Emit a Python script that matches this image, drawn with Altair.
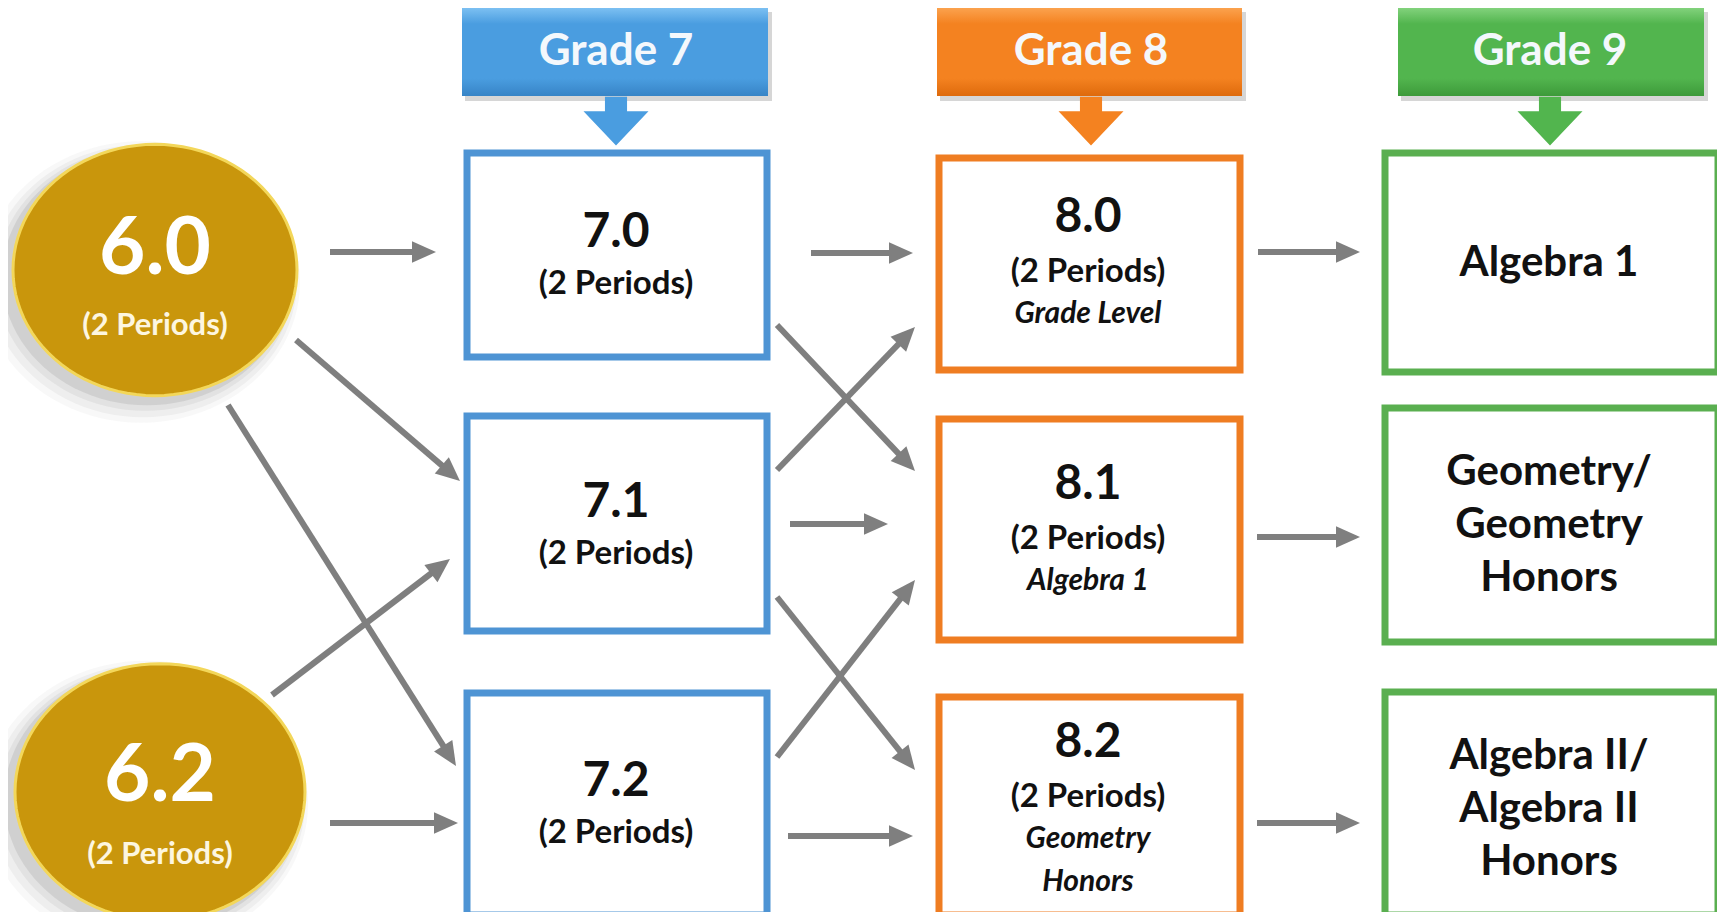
import math
import altair as alt
import pandas as pd

# ---------------- content ----------------
grade_titles = ["Grade 7", "Grade 8", "Grade 9"]
start_courses = ["6.0", "6.2"]
grade7_courses = ["7.0", "7.1", "7.2"]
grade8_courses = ["8.0", "8.1", "8.2"]
grade8_tracks = [["Grade Level"], ["Algebra 1"], ["Geometry", "Honors"]]
grade9_courses = [["Algebra 1"], ["Geometry/", "Geometry", "Honors"], ["Algebra II/", "Algebra II", "Honors"]]
periods_label = "(2 Periods)"
path_from = ["6.0", "6.0", "6.0", "6.2", "6.2", "7.0", "7.0", "7.1", "7.1", "7.1", "7.2", "7.2", "8.0", "8.1", "8.2"]
path_to = ["7.0", "7.1", "7.2", "7.1", "7.2", "8.0", "8.1", "8.0", "8.1", "8.2", "8.1", "8.2", "9-1", "9-2", "9-3"]

# ---------------- layout (pixel positions on the 1725x920 page) ----------------
PAGE_W, PAGE_H, M = 1725, 920, 8
header_x1 = [462, 937, 1398]
header_x2 = [768, 1242, 1704]
header_y1, header_y2 = 8, 96
header_cx = [616, 1091, 1550]
grade_light = ["#7cc0f2", "#fba24e", "#82d27c"]
grade_mid = ["#4a9de0", "#f48220", "#52b54e"]
grade_dark = ["#3784c6", "#de6a0c", "#3d9a3a"]
border_colors = ["#4e94d4", "#ef7d22", "#5aaf50"]

col_x1 = [467, 939, 1385]
col_x2 = [767, 1240, 1718]
row_y1 = [[153, 416, 693], [158, 419, 697], [153, 408, 692]]
row_y2 = [[357, 631, 915], [370, 640, 915], [372, 642, 915]]

circle_cx = [155, 160]
circle_cy = [270, 792]
circle_rx = [142, 145]

arrow_x1 = [330, 296, 228, 272, 330, 811, 777, 777, 790, 777, 777, 788, 1258, 1257, 1257]
arrow_y1 = [252, 340, 405, 695, 823, 253, 325, 470, 524, 597, 757, 836, 252, 537, 823]
arrow_x2 = [436, 460, 456, 450, 458, 913, 915, 915, 888, 915, 915, 913, 1360, 1360, 1360]
arrow_y2 = [252, 481, 766, 559, 823, 253, 471, 327, 524, 770, 580, 836, 252, 537, 823]

FONT = "Lato"

# ---------------- tables ----------------
hdr = pd.DataFrame({"title": grade_titles, "x1": header_x1, "x2": header_x2,
                    "y1": header_y1, "y2": header_y2, "cx": header_cx,
                    "cy": [(header_y1 + header_y2) / 2] * 3,
                    "ay": [header_y2 + 25] * 3, "col": grade_mid})

box_rows = []
for c in range(3):
    for r in range(3):
        box_rows.append({"x1": col_x1[c], "x2": col_x2[c], "y1": row_y1[c][r],
                         "y2": row_y2[c][r], "stroke": border_colors[c]})
boxes = pd.DataFrame(box_rows)

circ = pd.DataFrame({"label": start_courses, "cx": circle_cx, "cy": circle_cy,
                     "sz": [(2 * r) ** 2 for r in circle_rx]})

texts = []  # text, x, y, size, color, italic
circle_main_y = [250, 777]
circle_sub_y = [326, 855]
for lab, cx, y1, y2 in zip(start_courses, circle_cx, circle_main_y, circle_sub_y):
    texts.append((lab, cx, y1, 80, "#ffffff", False))
    texts.append((periods_label, cx, y2, 31, "#fdf6e0", False))

g7_main_y = [233, 503, 782]
for lab, y in zip(grade7_courses, g7_main_y):
    texts.append((lab, 616, y, 48, "#111111", False))
    texts.append((periods_label, 616, y + 51, 33, "#111111", False))

g8_main_y = [218, 485, 743]
for lab, tracks, y in zip(grade8_courses, grade8_tracks, g8_main_y):
    texts.append((lab, 1088, y, 48, "#111111", False))
    texts.append((periods_label, 1088, y + 54, 33, "#111111", False))
    for k, t in enumerate(tracks):
        texts.append((t, 1088, y + 96 + 43 * k, 30, "#111111", True))

g9_first_y = [263, 472, 756]
for lines, y in zip(grade9_courses, g9_first_y):
    for k, t in enumerate(lines):
        texts.append((t, 1549, y + 53 * k, 42, "#111111", False))

txt = pd.DataFrame(texts, columns=["text", "x", "y", "size", "color", "italic"])

HEAD = 24
arows = []
for x1, y1, x2, y2 in zip(arrow_x1, arrow_y1, arrow_x2, arrow_y2):
    dx, dy = x2 - x1, y2 - y1
    L = math.hypot(dx, dy)
    ux, uy = dx / L, dy / L
    ang = math.degrees(math.atan2(dx, -dy)) % 360
    arows.append({"x1": x1, "y1": y1, "lx2": x2 - ux * 14, "ly2": y2 - uy * 14,
                  "hx": x2 - ux * HEAD / 2, "hy": y2 - uy * HEAD / 2, "angle": ang})
arr = pd.DataFrame(arows)

# ---------------- scales ----------------
W, H = PAGE_W - 2 * M, PAGE_H - 2 * M
xs = alt.Scale(domain=[M, PAGE_W - M], range=[0, W], nice=False, zero=False)
ys = alt.Scale(domain=[M, PAGE_H - M], range=[0, H], nice=False, zero=False)


def X(f):
    return alt.X(f + ":Q", scale=xs, axis=None)


def Y(f):
    return alt.Y(f + ":Q", scale=ys, axis=None)


# ellipse symbol (unit half-width 1, half-height 0.885) as a polygon path
ELL_RATIO = 0.885
pts = []
for i in range(96):
    t = 2 * math.pi * i / 96
    pts.append(f"{math.cos(t):.4f},{ELL_RATIO * math.sin(t):.4f}")
ellipse = "M" + "L".join(pts) + "Z"

layers = []

# header shadows + gradient headers
layers.append(alt.Chart(hdr).mark_rect(color="#000000", opacity=0.16).encode(
    x=alt.X("sx1:Q", scale=xs, axis=None), x2="sx2:Q",
    y=alt.Y("sy1:Q", scale=ys, axis=None), y2="sy2:Q"
).transform_calculate(sx1="datum.x1+3", sx2="datum.x2+4", sy1="datum.y1+4", sy2="datum.y2+5"))

for i in range(3):
    grad = alt.Gradient(gradient="linear", x1=0, x2=0, y1=0, y2=1, stops=[
        alt.GradientStop(color=grade_light[i], offset=0),
        alt.GradientStop(color=grade_mid[i], offset=0.18),
        alt.GradientStop(color=grade_mid[i], offset=0.8),
        alt.GradientStop(color=grade_dark[i], offset=1)])
    layers.append(alt.Chart(hdr.iloc[[i]]).mark_rect(color=grad).encode(
        x=X("x1"), x2="x2", y=Y("y1"), y2="y2"))

layers.append(alt.Chart(hdr).mark_text(font=FONT, fontWeight="bold", fontSize=44,
                                       color="#f4f8fc", baseline="middle", align="center").encode(
    x=X("cx"), y=Y("cy"), text="title:N"))

# block down-arrows
block_arrow = "M-0.34,-0.75L0.34,-0.75L0.34,-0.3L1,-0.3L0,0.75L-1,-0.3L-0.34,-0.3Z"
layers.append(alt.Chart(hdr).mark_point(shape=block_arrow, filled=True, opacity=1, size=4225).encode(
    x=X("cx"), y=Y("ay"), color=alt.Color("col:N", scale=None)))

# boxes
layers.append(alt.Chart(boxes).mark_rect(fill="#ffffff", strokeWidth=7).encode(
    x=X("x1"), x2="x2", y=Y("y1"), y2="y2", stroke=alt.Stroke("stroke:N", scale=None)))

# circles with soft shadow
for (dx, dy, extra, op) in [(-14, 12, 34, 0.04), (-12, 11, 24, 0.06), (-10, 9, 14, 0.08), (-8, 7, 6, 0.12)]:
    layers.append(alt.Chart(circ).mark_point(shape=ellipse, filled=True, color="#555555",
                                             opacity=op).encode(
        x=alt.X("sx:Q", scale=xs, axis=None), y=alt.Y("sy:Q", scale=ys, axis=None),
        size=alt.Size("ssz:Q", scale=None)
    ).transform_calculate(sx=f"datum.cx+({dx})", sy=f"datum.cy+({dy})",
                          ssz=f"pow(sqrt(datum.sz)+{extra},2)"))
layers.append(alt.Chart(circ).mark_point(shape=ellipse, filled=True, fill="#c9960c", opacity=1,
                                         stroke="#f3d75a", strokeWidth=3).encode(
    x=X("cx"), y=Y("cy"), size=alt.Size("sz:Q", scale=None)))

# arrows
layers.append(alt.Chart(arr).mark_rule(color="#7f7f7f", strokeWidth=6, strokeCap="butt").encode(
    x=X("x1"), y=Y("y1"), x2="lx2:Q", y2="ly2:Q"))
layers.append(alt.Chart(arr).mark_point(shape="M0,-1L0.9,1L-0.9,1Z", filled=True, color="#7f7f7f",
                                        opacity=1, size=HEAD ** 2).encode(
    x=X("hx"), y=Y("hy"), angle=alt.Angle("angle:Q", scale=None)))

# texts
for italic in (False, True):
    sub = txt[txt["italic"] == italic]
    layers.append(alt.Chart(sub).mark_text(font=FONT, fontWeight="bold",
                                           fontStyle="italic" if italic else "normal",
                                           baseline="middle", align="center").encode(
        x=X("x"), y=Y("y"), text="text:N",
        size=alt.Size("size:Q", scale=None), color=alt.Color("color:N", scale=None)))

chart = alt.layer(*layers).properties(
    width=W, height=H, autosize=alt.AutoSizeParams(type="none"), padding=0, background="#ffffff"
).configure_view(strokeWidth=0)

chart.save("out.html", embed_options={"renderer": "svg", "actions": False})
